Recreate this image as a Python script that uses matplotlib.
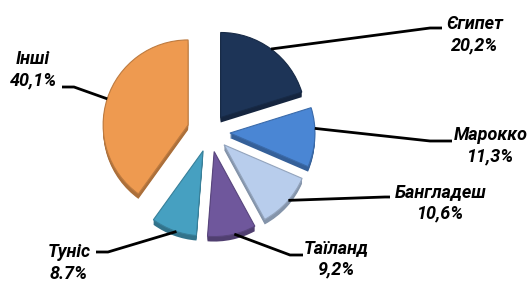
import numpy as np
import matplotlib.pyplot as plt
from matplotlib.colors import to_rgb

labels = ["Єгипет", "Марокко", "Бангладеш", "Таїланд", "Туніс", "Інші"]
values = [20.2, 11.3, 10.6, 9.2, 8.7, 40.1]
pct_text = ["20,2%", "11,3%", "10,6%", "9,2%", "8.7%", "40,1%"]
colors = ["#1d3457", "#4a86d4", "#b8cdec", "#6f579c", "#46a0c1", "#ee9a50"]

plt.rcParams['font.family'] = ['Roboto', 'DejaVu Sans']

fig = plt.figure(figsize=(5.31, 2.84), dpi=100)
ax = fig.add_axes([0, 0, 1, 1])

cx, cy, r = 210, 152, 85
# explode offsets are in data units (pixels here)
explode = [18, 20, 19, 20, 20, 23]


def darker(c, f=0.7):
    return tuple(v * f for v in to_rgb(c))


# thickness of the tilted pie
for d in range(5, 0, -1):
    ax.pie(values, colors=[darker(c, 0.72) for c in colors], startangle=90,
           counterclock=False, explode=explode, radius=r, center=(cx, cy - d),
           frame=True, wedgeprops=dict(linewidth=0))

wedges, _ = ax.pie(values, colors=colors, startangle=90, counterclock=False,
                   explode=explode, radius=r, center=(cx, cy), frame=True,
                   wedgeprops=dict(linewidth=0.8))
for w, c in zip(wedges, colors):
    w.set_edgecolor(darker(c, 0.8))

ax.set_xlim(0, 531)
ax.set_ylim(0, 284)
ax.set_aspect('equal')
ax.axis('off')

# label layout: (arc position, elbow, end, text pos)
layout = [
    (0.5, (430, 256), (442, 256), (475, 249)),
    (0.65, (430, 143), (452, 143), (491, 138)),
    (0.54, (385, 87), (390, 87), (441, 81)),
    (0.55, (290, 29), (303, 29), (336, 25)),
    (0.56, (108, 32), (96, 32), (69, 21)),
    (0.5, (74, 197), (62, 197), (33, 214)),
]

for w, lab, pct, (frac, elbow, end, tpos) in zip(wedges, labels, pct_text, layout):
    t1, t2 = w.theta1, w.theta2
    ang = np.deg2rad(t1 + (t2 - t1) * frac)
    x0, y0 = w.center
    px = x0 + w.r * np.cos(ang)
    py = y0 + w.r * np.sin(ang)
    ax.plot([px, elbow[0], end[0]], [py, elbow[1], end[1]], color="black",
            lw=2, solid_capstyle='butt')
    ax.text(tpos[0], tpos[1], lab + "\n" + pct, ha="center", va="center",
            fontsize=13, fontweight="bold", fontstyle="italic",
            linespacing=1.25, color="black")

fig.savefig("out.png", dpi=100)
